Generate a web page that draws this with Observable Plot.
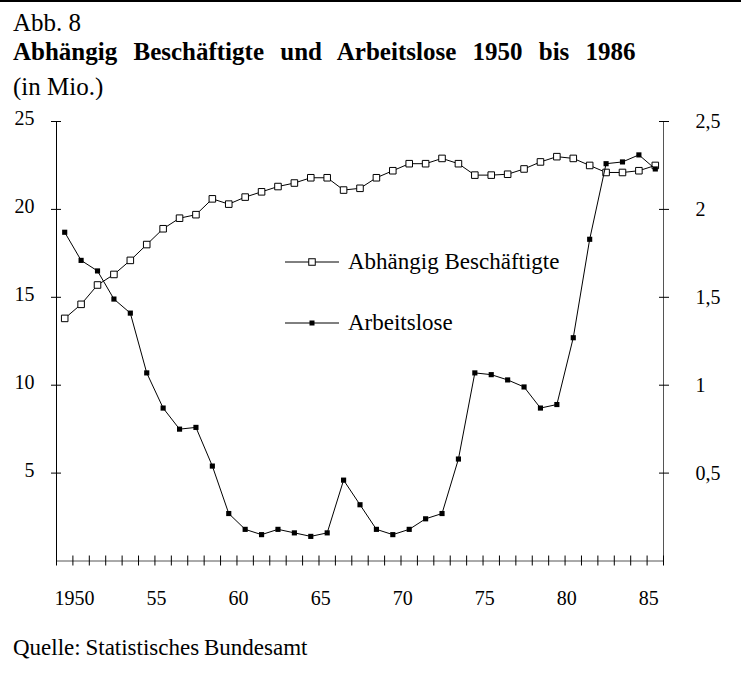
<!DOCTYPE html>
<html>
<head>
<meta charset="utf-8">
<script src="https://cdn.jsdelivr.net/npm/d3@7"></script>
<script src="https://cdn.jsdelivr.net/npm/@observablehq/plot@0.6"></script>
<style>
  html, body { margin: 0; padding: 0; background: white; }
  body { width: 741px; height: 678px; position: relative; overflow: hidden; font-family: "Liberation Serif", "Times New Roman", serif; color: black; border-top: 2px solid black; box-sizing: border-box; }
  .t { position: absolute; left: 13px; white-space: nowrap; line-height: 25px; font-size: 25px; }
  #abb { top: 8px; }
  #title { top: 37px; font-weight: bold; word-spacing: 10px; }
  #sub { top: 72px; }
  #chart { position: absolute; left: 0; top: 98px; }
  #legend { position: absolute; left: 0; top: -2px; pointer-events: none; }
  #foot { position: absolute; left: 13px; top: 634px; font-size: 23px; line-height: 23px; word-spacing: -1px; white-space: nowrap; }
</style>
</head>
<body>
<div class="t" id="abb">Abb. 8</div>
<div class="t" id="title">Abhängig Beschäftigte und Arbeitslose 1950 bis 1986</div>
<div class="t" id="sub">(in Mio.)</div>
<div id="chart"></div>
<div id="foot">Quelle: Statistisches Bundesamt</div>
<script>
// ---- data ----
const years = [1950,1951,1952,1953,1954,1955,1956,1957,1958,1959,1960,1961,1962,1963,1964,1965,1966,1967,1968,1969,1970,1971,1972,1973,1974,1975,1976,1977,1978,1979,1980,1981,1982,1983,1984,1985,1986];
// Abhängig Beschäftigte (Mio., left axis)
const employed = [13.8,14.6,15.7,16.3,17.1,18.0,18.9,19.5,19.7,20.6,20.3,20.7,21.0,21.3,21.5,21.8,21.8,21.1,21.2,21.8,22.2,22.6,22.6,22.9,22.6,21.95,21.95,22.0,22.3,22.7,23.0,22.9,22.5,22.1,22.1,22.2,22.5];
// Arbeitslose (Mio., right axis)
const unemployed = [1.87,1.71,1.65,1.49,1.41,1.07,0.87,0.75,0.76,0.54,0.27,0.18,0.15,0.18,0.16,0.14,0.16,0.46,0.32,0.18,0.15,0.18,0.24,0.27,0.58,1.07,1.06,1.03,0.99,0.87,0.89,1.27,1.83,2.26,2.27,2.31,2.23];
const leftTicks = [5,10,15,20,25];
const leftLabels = ["5","10","15","20","25"];
const rightTicks = [0.5,1,1.5,2,2.5];
const rightLabels = ["0,5","1","1,5","2","2,5"];
const xLabelYears = [1950,1955,1960,1965,1970,1975,1980,1985];
const xLabels = ["1950","55","60","65","70","75","80","85"];
const seriesNames = ["Abhängig Beschäftigte","Arbeitslose"];
const rightFactor = 10; // right axis = left axis / 10

const empData = years.map((y,i) => ({year: y, value: employed[i]}));
const unData = years.map((y,i) => ({year: y, value: unemployed[i]}));
const xMin = years[0] - 0.5, xMax = years[years.length-1] + 0.5;
const boundaries = years.map(y => y - 0.5).concat([xMax]);

const chart = Plot.plot({
  width: 741,
  height: 522,
  marginTop: 21,
  marginBottom: 61.5,
  marginLeft: 56,
  marginRight: 78,
  style: {fontFamily: "Liberation Serif, Times New Roman, serif", fontSize: "20px", background: "white", color: "black", overflow: "visible"},
  x: {domain: [xMin, xMax], axis: null},
  y: {domain: [0, 25], axis: null},
  marks: [
    // axis lines
    Plot.ruleX([xMin], {y1: 0, y2: 25, stroke: "black", strokeWidth: 1}),
    Plot.ruleX([xMax], {y1: 0, y2: 25, stroke: "#555", strokeWidth: 1}),
    Plot.ruleY([0], {x1: xMin, x2: xMax, stroke: "#555", strokeWidth: 1}),
    // x ticks crossing the axis
    Plot.axisX({ticks: boundaries, tickSize: 10, dy: -5, tickFormat: () => "", label: null, strokeOpacity: 1}),
    // x labels
    Plot.text(xLabelYears, {x: d => d + 0.6, frameAnchor: "bottom", text: (d,i) => xLabels[i], dy: 38, lineAnchor: "middle", fontSize: 20}),
    // left ticks and labels
    Plot.axisY({anchor: "left", ticks: leftTicks, tickSize: 10, dx: 5, tickFormat: () => "", label: null, strokeOpacity: 1}),
    Plot.axisY({anchor: "left", ticks: leftTicks, tickSize: 0, tickPadding: 22, dy: -3, label: null, tickFormat: d => leftLabels[leftTicks.indexOf(d)]}),
    // right ticks and labels
    Plot.axisY({anchor: "right", ticks: rightTicks.map(v => v * rightFactor), tickSize: 10, dx: -5, tickFormat: () => "", label: null, strokeOpacity: 1}),
    Plot.axisY({anchor: "right", ticks: rightTicks.map(v => v * rightFactor), tickSize: 0, tickPadding: 32, label: null, tickFormat: d => rightLabels[rightTicks.findIndex(v => Math.abs(v * rightFactor - d) < 1e-9)]}),
    // series
    Plot.line(empData, {x: "year", y: "value", stroke: "black", strokeWidth: 1}),
    Plot.dot(empData, {x: "year", y: "value", symbol: "square", r: 3.7, fill: "white", stroke: "black", strokeWidth: 1}),
    Plot.line(unData, {x: "year", y: d => d.value * rightFactor, stroke: "black", strokeWidth: 1}),
    Plot.dot(unData, {x: "year", y: d => d.value * rightFactor, symbol: "square", r: 2.9, fill: "black", stroke: "none"})
  ]
});
document.getElementById("chart").appendChild(chart);

// legend overlay (inside the plot area, as in the original)
const ns = "http://www.w3.org/2000/svg";
const lg = document.createElementNS(ns, "svg");
lg.setAttribute("id", "legend");
lg.setAttribute("width", 741);
lg.setAttribute("height", 678);
const items = [
  {name: seriesNames[0], y: 262, open: true},
  {name: seriesNames[1], y: 323, open: false}
];
for (const it of items) {
  const l = document.createElementNS(ns, "line");
  l.setAttribute("x1", 285); l.setAttribute("x2", 339);
  l.setAttribute("y1", it.y); l.setAttribute("y2", it.y);
  l.setAttribute("stroke", "black"); l.setAttribute("stroke-width", 1);
  lg.appendChild(l);
  const r = document.createElementNS(ns, "rect");
  const s = it.open ? 6.5 : 5;
  r.setAttribute("x", 312 - s/2); r.setAttribute("y", it.y - s/2);
  r.setAttribute("width", s); r.setAttribute("height", s);
  r.setAttribute("fill", it.open ? "white" : "black");
  r.setAttribute("stroke", it.open ? "black" : "none");
  lg.appendChild(r);
  const t = document.createElementNS(ns, "text");
  t.setAttribute("x", 348); t.setAttribute("y", it.y + 7);
  t.setAttribute("font-family", "Liberation Serif, Times New Roman, serif");
  t.setAttribute("font-size", "23");
  t.textContent = it.name;
  lg.appendChild(t);
}
document.body.appendChild(lg);
</script>
</body>
</html>
